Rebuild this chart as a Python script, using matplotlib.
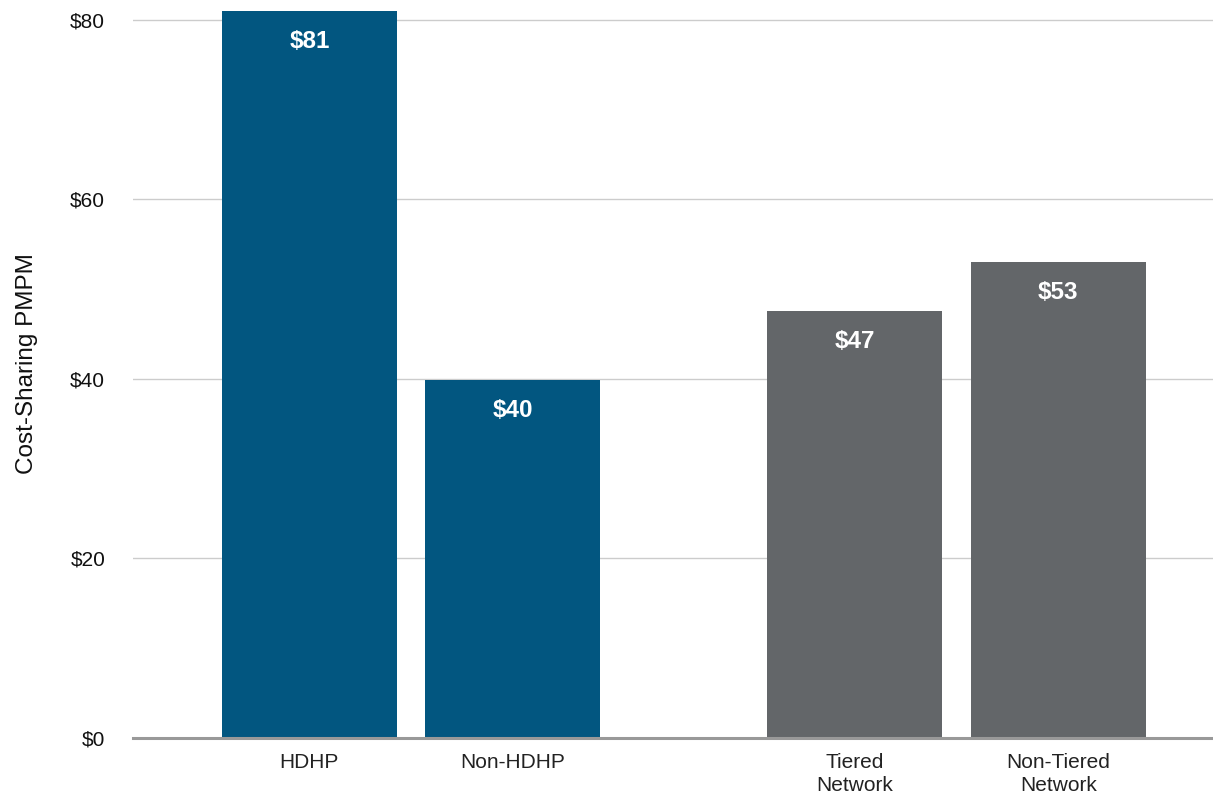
#--------------------------------->[IMPORT]<------------------------------------------#
import matplotlib.pyplot as plt
from matplotlib import font_manager
#-------------------------------------------------------------------------------------#

#--------------------------------->[DATA]<--------------------------------------------#
categories = ["HDHP", "Non-HDHP", "Tiered\nNetwork", "Non-Tiered\nNetwork"]
values = [81.0, 39.9, 47.6, 53.0]
value_labels = ["$81", "$40", "$47", "$53"]
y_ticks = [0, 20, 40, 60, 80]
y_tick_labels = ["$0", "$20", "$40", "$60", "$80"]
#-------------------------------------------------------------------------------------#

#--------------------------------->[STYLE]<-------------------------------------------#
blue = "#025680"
gray = "#636669"
bar_colors = [blue, blue, gray, gray]

# two groups of two bars, wider gap between groups
group_gap = 1.68
positions = [0, 1, group_gap + 1, group_gap + 2]
bar_width = 0.86

plt.rcParams['font.family'] = ['Liberation Sans', 'DejaVu Sans']
names = {f.name for f in font_manager.fontManager.ttflist}
label_family = ['Liberation Sans Narrow'] if 'Liberation Sans Narrow' in names else ['Liberation Sans']
#-------------------------------------------------------------------------------------#

#--------------------------------->[PLOTTING]<----------------------------------------#
fig = plt.figure(figsize=(12.13, 7.96), dpi=100)
ax = fig.add_axes([0.1096, 0.0729, 0.8904, 0.925])

ax.bar(positions, values, width=bar_width, color=bar_colors, zorder=3)

# value labels inside the top of each bar
for x, v, lab in zip(positions, values, value_labels):
    ax.annotate(lab, (x, v), xytext=(0, -22), textcoords="offset points",
                ha="center", va="center", color="white", fontsize=17.5,
                fontweight="bold", family=label_family, zorder=4)

ax.set_xlim(-0.867, 4.44)
ax.set_ylim(0, 82)
ax.set_yticks(y_ticks)
ax.set_yticklabels(y_tick_labels, fontsize=15, color="#111111")
ax.set_xticks(positions)
ax.set_xticklabels(categories, fontsize=15, color="#222222", linespacing=1.25)
ax.tick_params(axis="y", length=0, pad=20)
ax.tick_params(axis="x", length=0, pad=11)

# light gridlines, darker baseline
ax.grid(axis="y", color="#cccccc", linewidth=1, zorder=0)
for s in ax.spines.values():
    s.set_visible(False)
ax.axhline(0, color="#999999", linewidth=2.2, clip_on=False, zorder=5)

ax.set_ylabel("Cost-Sharing PMPM", fontsize=17.5, color="#111111")
ax.yaxis.set_label_coords(-0.088, 0.508)

fig.savefig("out.png", dpi=100)
#-------------------------------------------------------------------------------------#
